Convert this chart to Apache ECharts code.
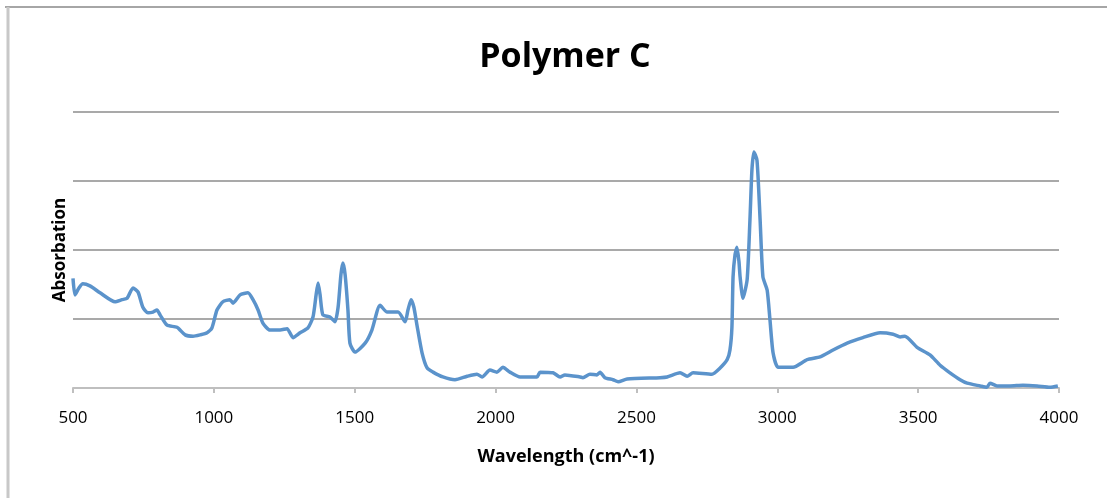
<!DOCTYPE html>
<html>
<head>
<meta charset="utf-8">
<script src="https://cdn.jsdelivr.net/npm/echarts@6/dist/echarts.min.js"></script>
<style>
html,body{margin:0;padding:0;background:#fff;}
#c{width:1107px;height:498px;}
</style>
</head>
<body>
<div id="c"></div>
<script>
var chartTitle = "Polymer C";
var xAxisName = "Wavelength (cm^-1)";
var yAxisName = "Absorbation";
var xTicks = [500, 1000, 1500, 2000, 2500, 3000, 3500, 4000];

var wavenumber = [500,507,521,535,560,596,649,674,692,713,731,748,766,784,798,809,834,869,898,926,951,976,993,1011,1032,1057,1068,1093,1121,1139,1157,1174,1199,1235,1260,1281,1306,1334,1352,1363,1370,1377,1387,1412,1430,1441,1451,1458,1466,1476,1483,1501,1537,1561,1590,1615,1654,1679,1689,1700,1710,1721,1739,1757,1778,1813,1856,1899,1934,1952,1980,2005,2026,2051,2087,2147,2158,2204,2229,2246,2300,2310,2335,2360,2371,2388,2417,2435,2467,2584,2609,2655,2680,2701,2768,2797,2822,2832,2839,2843,2850,2857,2864,2868,2878,2893,2903,2910,2917,2928,2939,2949,2964,2974,2985,3003,3056,3106,3152,3198,3248,3304,3365,3411,3436,3453,3496,3542,3578,3613,3649,3674,3720,3744,3755,3780,3826,3872,3922,3968,3996];
var absorbance = [1.59,1.35,1.45,1.51,1.48,1.38,1.25,1.28,1.30,1.45,1.39,1.17,1.09,1.10,1.13,1.06,0.91,0.88,0.77,0.75,0.77,0.80,0.87,1.13,1.25,1.28,1.23,1.35,1.38,1.28,1.13,0.94,0.84,0.84,0.86,0.73,0.80,0.87,1.03,1.35,1.52,1.35,1.06,1.03,0.96,1.17,1.64,1.81,1.64,1.13,0.65,0.52,0.65,0.84,1.20,1.10,1.10,0.96,1.13,1.28,1.17,0.91,0.51,0.29,0.23,0.16,0.12,0.17,0.20,0.16,0.26,0.23,0.30,0.23,0.16,0.16,0.23,0.22,0.16,0.19,0.16,0.15,0.20,0.19,0.23,0.15,0.12,0.09,0.13,0.15,0.16,0.22,0.17,0.22,0.20,0.29,0.41,0.55,0.88,1.61,1.93,2.04,1.83,1.61,1.30,1.57,2.44,3.16,3.42,3.30,2.44,1.61,1.42,0.99,0.51,0.30,0.30,0.41,0.45,0.55,0.65,0.73,0.80,0.78,0.74,0.75,0.59,0.48,0.33,0.22,0.12,0.07,0.03,0.01,0.07,0.03,0.03,0.04,0.03,0.01,0.03];

var seriesData = wavenumber.map(function (w, i) { return [w, absorbance[i]]; });

var chart = echarts.init(document.getElementById('c'), null, {renderer: 'canvas'});
chart.setOption({
  animation: false,
  backgroundColor: '#ffffff',
  title: {
    text: chartTitle,
    left: 560,
    top: 35,
    textAlign: 'center',
    textStyle: {fontFamily: 'Open Sans', fontWeight: 'bold', fontSize: 34, color: '#000'}
  },
  graphic: [
    {type: 'line', shape: {x1: 5, y1: 7, x2: 1107, y2: 7}, style: {stroke: '#a6a6a6', lineWidth: 2}},
    {type: 'line', shape: {x1: 8, y1: 7, x2: 8, y2: 498}, style: {stroke: '#c8c8c8', lineWidth: 3}}
  ],
  grid: {left: 73, right: 48, top: 112, bottom: 110},
  xAxis: {
    type: 'value',
    min: 500, max: 4000, interval: 500,
    name: xAxisName,
    nameLocation: 'middle',
    nameGap: 60,
    nameTextStyle: {fontFamily: 'Open Sans', fontWeight: 'bold', fontSize: 18, color: '#000'},
    axisLine: {show: true, lineStyle: {color: '#bfbfbf', width: 2}},
    axisTick: {show: true, length: 5, lineStyle: {color: '#bfbfbf', width: 2}},
    axisLabel: {
      fontFamily: 'Open Sans', fontSize: 17, color: '#000', margin: 22,
      formatter: function (v) { return xTicks.indexOf(v) >= 0 ? String(v) : ''; }
    },
    splitLine: {show: false}
  },
  yAxis: {
    type: 'value',
    min: 0, max: 4, interval: 1,
    name: yAxisName,
    nameLocation: 'middle',
    nameGap: 4,
    nameTextStyle: {fontFamily: 'Open Sans', fontWeight: 'bold', fontSize: 17, color: '#000'},
    axisLine: {show: false},
    axisTick: {show: false},
    axisLabel: {show: false},
    splitLine: {show: true, lineStyle: {color: '#8c8c8c', width: 1.5}}
  },
  series: [{
    type: 'line',
    data: seriesData,
    showSymbol: false,
    smooth: 0.2,
    lineStyle: {color: '#5b93cb', width: 3.5},
    z: 5
  }]
});
</script>
</body>
</html>
